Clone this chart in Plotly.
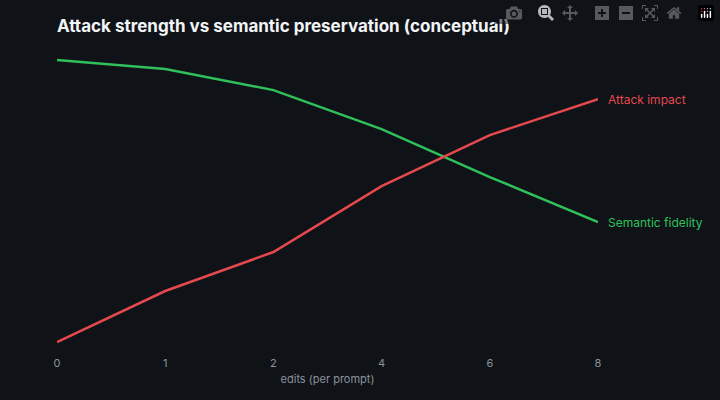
import plotly.graph_objects as go

edits = ["0", "1", "2", "4", "6", "8"]
semantic_fidelity = [100, 97, 90, 77, 61, 46]
attack_impact = [6, 23, 36, 58, 75, 87]

pos = list(range(len(edits)))
red = "#e5484d"
green = "#30c05a"

fig = go.Figure()
fig.add_trace(go.Scatter(x=pos, y=semantic_fidelity, mode="lines", name="Semantic fidelity",
                         line=dict(color=green, width=2.5)))
fig.add_trace(go.Scatter(x=pos, y=attack_impact, mode="lines", name="Attack impact",
                         line=dict(color=red, width=2.5)))

for ys, name, col in [(attack_impact, "Attack impact", red), (semantic_fidelity, "Semantic fidelity", green)]:
    fig.add_annotation(x=pos[-1], y=ys[-1], text=name, showarrow=False, xanchor="left",
                       xshift=8, font=dict(color=col, size=12))

fig.update_layout(
    width=720, height=400,
    paper_bgcolor="#0f1318", plot_bgcolor="#0f1318",
    margin=dict(l=57, r=122, t=40, b=45),
    showlegend=False,
    font=dict(family="Inter", color="#8b929b"),
    title=dict(text="<b>Attack strength vs semantic preservation (conceptual)</b>",
               x=57 / 720, xanchor="left", y=0.935, yanchor="middle",
               font=dict(size=17, color="#f2f4f6")),
    xaxis=dict(range=[0, 5], tickvals=pos, ticktext=edits, showgrid=False, zeroline=False,
               showline=False, ticks="", tickfont=dict(size=11, color="#8b929b"),
               title=dict(text="edits (per prompt)", font=dict(size=11, color="#8b929b"), standoff=6)),
    yaxis=dict(range=[1.67, 106.7], visible=False, showgrid=False),
)

fig.write_html("out.html", post_script="document.body.style.margin='0';")
